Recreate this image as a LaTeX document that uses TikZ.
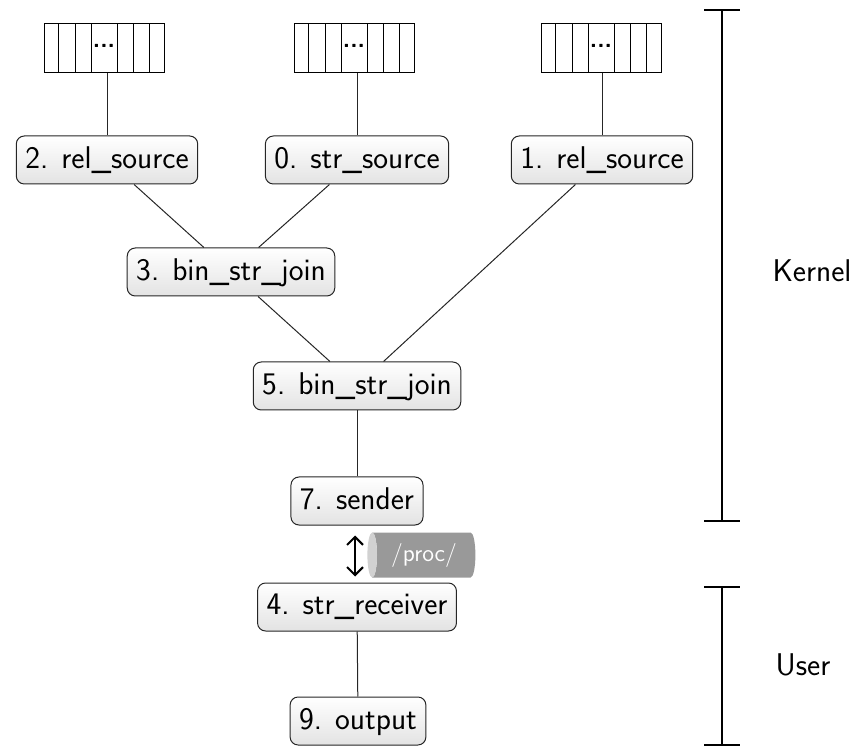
\documentclass[tikz,border=0pt]{standalone}
\usetikzlibrary{shapes.geometric,arrows.meta}
\begin{document}
\begin{tikzpicture}[x=0.5pt,y=-0.5pt,
  font=\sffamily\fontsize{15.7}{18}\selectfont,
  op/.style={draw=black!85, line width=0.5pt, rounded corners=4pt,
    top color=white, bottom color=gray!22, inner xsep=4.5pt, inner ysep=0pt,
    minimum height=24pt, text depth=0.25em},
  queue/.style={draw, line width=0.5pt, minimum width=60pt, minimum height=24.5pt,
    inner sep=0pt, font=\sffamily\bfseries\fontsize{12}{14}\selectfont,
    path picture={
      \foreach \d in {7,15.5,23.5,36.5,44.5,52.5}
        \draw[line width=0.5pt] ([xshift=\d pt]path picture bounding box.south west)
          -- ([xshift=\d pt]path picture bounding box.north west);}},
  link/.style={line width=0.5pt, draw=black!85},
  bracket/.style={line width=1pt},
  dbl/.style={{Straight Barb[length=4pt,width=8pt]}-{Straight Barb[length=4pt,width=8pt]}, line width=1pt}
]
\useasboundingbox (0,0) rectangle (855,747);

% input queues
\node[queue] (q2) at (104,48) {\raisebox{2.5pt}{...}};
\node[queue] (q0) at (354,48) {\raisebox{2.5pt}{...}};
\node[queue] (q1) at (601,48) {\raisebox{2.5pt}{...}};

% operators
\node[op] (s2) at (107,160) {2. rel\_source};
\node[op] (s0) at (357,160) {0. str\_source};
\node[op] (s1) at (602,160) {1. rel\_source};
\node[op] (j3) at (231,272) {3. bin\_str\_join};
\node[op] (j5) at (357,386) {5. bin\_str\_join};
\node[op] (snd) at (357,501) {7. sender};
\node[op] (rcv) at (357,607) {4. str\_receiver};
\node[op] (out) at (358,721) {9. output};

% /proc/ channel
\node[cylinder, shape border rotate=180, aspect=0.4,
  minimum width=22.5pt, minimum height=54pt, inner sep=0pt,
  cylinder uses custom fill, cylinder body fill=black!40, cylinder end fill=black!18,
  text=white, font=\sffamily\fontsize{12}{14}\selectfont] (proc) at (424,555) {/proc/};

% connections
\draw[link] (s2.north) -- (s2.north |- q2.south);
\draw[link] (s0.north) -- (s0.north |- q0.south);
\draw[link] (s1.north) -- (s1.north |- q1.south);
\draw[link] (s2) -- (j3);
\draw[link] (s0) -- (j3);
\draw[link] (j3) -- (j5);
\draw[link] (s1) -- (j5);
\draw[link] (j5) -- (snd);
\draw[link] (rcv) -- (out);
\draw[dbl, shorten <=5pt, shorten >=3pt] ([xshift=-1pt]snd.south) -- ([xshift=-1pt]rcv.north);

% address-space brackets
\draw[bracket] (704,10) -- (740,10) (722,10) -- (722,521) (704,521) -- (740,521);
\draw[bracket] (704,587) -- (740,587) (722,587) -- (722,745) (704,745) -- (740,745);
\node (kernel) at (812,271) {Kernel};
\node (user) at (803,665) {User};
\end{tikzpicture}
\end{document}
